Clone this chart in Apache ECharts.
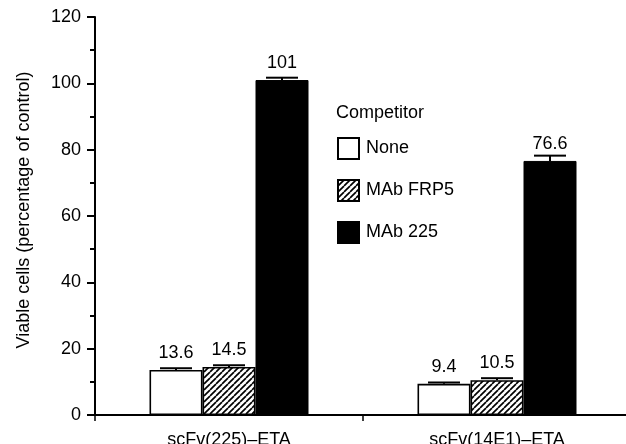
<!DOCTYPE html>
<html>
<head>
<meta charset="utf-8">
<script src="https://cdn.jsdelivr.net/npm/echarts@6/dist/echarts.min.js"></script>
<style>html,body{margin:0;padding:0;background:#fff}#c{width:626px;height:444px}</style>
</head>
<body>
<div id="c"></div>
<script>
const categories = ['scFv(225)\u2013ETA', 'scFv(14E1)\u2013ETA'];
const seriesNames = ['None', 'MAb FRP5', 'MAb 225'];
const noneVals = [13.6, 9.4];
const frp5Vals = [14.5, 10.5];
const mab225Vals = [101, 76.6];
const noneErr = [0.5, 0.4];
const frp5Err = [0.5, 0.6];
const mab225Err = [0.7, 1.6];
const yTicks = [0, 20, 40, 60, 80, 100, 120];

const FONT = 'Liberation Sans';
const FS = 18;

function hatchPattern() {
  const s = 6;
  const cv = document.createElement('canvas');
  cv.width = s; cv.height = s;
  const ctx = cv.getContext('2d');
  ctx.fillStyle = '#fff';
  ctx.fillRect(0, 0, s, s);
  ctx.strokeStyle = '#000';
  ctx.lineWidth = 1.7;
  for (let o = -s; o <= s; o += s) {
    ctx.beginPath();
    ctx.moveTo(o, s);
    ctx.lineTo(o + s, 0);
    ctx.stroke();
  }
  return cv;
}

const chart = echarts.init(document.getElementById('c'));
const BAR_W = 53;
const allVals = [noneVals, frp5Vals, mab225Vals];
const allErr = [noneErr, frp5Err, mab225Err];
const errData = [];
for (let s = 0; s < 3; s++) {
  for (let i = 0; i < categories.length; i++) {
    errData.push([i, allVals[s][i], allErr[s][i], s]);
  }
}

const labelStyle = {
  show: true, position: 'top', distance: 8,
  fontFamily: FONT, fontSize: FS, color: '#000',
  formatter: p => String(p.value)
};

chart.setOption({
  animation: false,
  backgroundColor: '#fff',
  textStyle: { fontFamily: FONT },
  grid: { left: 95, top: 17, right: -5, bottom: 29, containLabel: false, outerBoundsMode: 'none' },
  title: {
    text: 'Competitor', left: 336, top: 104, padding: 0,
    textStyle: { fontFamily: FONT, fontSize: FS, fontWeight: 'normal', color: '#000' }
  },
  legend: {
    orient: 'vertical', left: 337, top: 137, padding: 0,
    itemWidth: 21, itemHeight: 21, itemGap: 19,
    icon: 'rect',
    data: seriesNames,
    textStyle: { fontFamily: FONT, fontSize: FS, color: '#000', padding: [0, 0, 0, 2] }
  },
  xAxis: {
    type: 'category', data: categories,
    axisLine: { lineStyle: { color: '#000', width: 2 } },
    axisTick: { show: true, length: 6, lineStyle: { color: '#000', width: 1.5 } },
    axisLabel: { fontFamily: FONT, fontSize: FS, color: '#000', margin: 16 }
  },
  yAxis: {
    type: 'value', min: 0, max: 120, interval: 20,
    name: 'Viable cells (percentage of control)',
    nameLocation: 'middle', nameGap: 62,
    nameTextStyle: { fontFamily: FONT, fontSize: 18, color: '#000', padding: [0, 0, 0, 12] },
    axisLine: { show: true, lineStyle: { color: '#000', width: 2 } },
    axisTick: { show: true, length: 8, lineStyle: { color: '#000', width: 2 } },
    minorTick: { show: true, splitNumber: 2, length: 5, lineStyle: { color: '#000', width: 2 } },
    splitLine: { show: false },
    axisLabel: { fontFamily: FONT, fontSize: FS, color: '#000', margin: 14,
      formatter: v => yTicks.includes(v) ? String(v) : '' }
  },
  series: [
    { name: 'None', type: 'bar', data: noneVals, barWidth: BAR_W, barGap: '0%',
      itemStyle: { color: '#fff', borderColor: '#000', borderWidth: 1.6 }, label: labelStyle, z: 2 },
    { name: 'MAb FRP5', type: 'bar', data: frp5Vals, barWidth: BAR_W, barGap: '0%',
      itemStyle: { color: { image: hatchPattern(), repeat: 'repeat' }, borderColor: '#000', borderWidth: 1.6 },
      label: labelStyle, z: 2 },
    { name: 'MAb 225', type: 'bar', data: mab225Vals, barWidth: BAR_W, barGap: '0%',
      itemStyle: { color: '#000', borderColor: '#000', borderWidth: 1 }, label: labelStyle, z: 2 },
    { name: 'err', type: 'custom', data: errData, z: 3,
      renderItem: function (params, api) {
        const ci = api.value(0), v = api.value(1), e = api.value(2), s = api.value(3);
        const base = api.coord([ci, v]);
        const top = api.coord([ci, v + e]);
        const x = base[0] + (s - 1) * BAR_W;
        const half = 16;
        return {
          type: 'group',
          children: [
            { type: 'line', shape: { x1: x, y1: base[1], x2: x, y2: top[1] },
              style: { stroke: '#000', lineWidth: 2 } },
            { type: 'line', shape: { x1: x - half, y1: top[1], x2: x + half, y2: top[1] },
              style: { stroke: '#000', lineWidth: 2 } }
          ]
        };
      }
    }
  ]
});
</script>
</body>
</html>
